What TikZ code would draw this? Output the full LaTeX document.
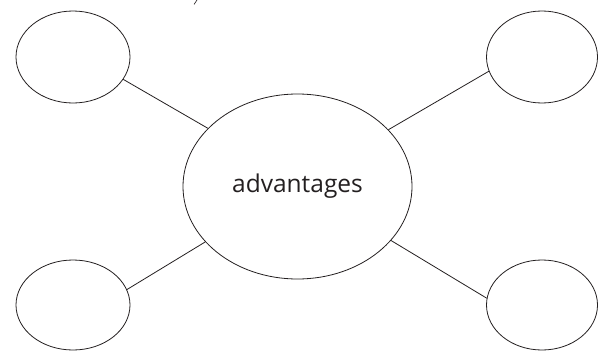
\documentclass[tikz,border=0pt]{standalone}
\usepackage{fontspec}
\setmainfont{Open Sans}
\usetikzlibrary{shapes.geometric}
\definecolor{ink}{HTML}{231F20}
\tikzset{
  bubble/.style={draw=ink, ellipse, line width=0.8pt, inner sep=0pt},
  small/.style={bubble, minimum width=114pt, minimum height=92pt},
  big/.style={bubble, minimum width=229pt, minimum height=185pt, font=\fontsize{24.5}{28}\selectfont, text=ink},
  link/.style={draw=ink, line width=0.8pt}
}
\begin{document}
\begin{tikzpicture}[x=1pt,y=-1pt]
\useasboundingbox (0,0) rectangle (599,351);
\node[big] (c) at (297.5,186.5) {\raisebox{-2.5pt}{advantages}};
\node[small] (tl) at (73,57) {};
\node[small, minimum width=111pt] (tr) at (542,57) {};
\node[small, minimum height=90pt] (bl) at (73,305) {};
\node[small, minimum width=111pt, minimum height=90pt] (br) at (542,305) {};
\draw[link] (tl.-24.8) -- (c.147.9);
\draw[link] (tr.195.5) -- (c.32.4);
\draw[link] (bl.16.8) -- (c.211);
\draw[link] (br.173.8) -- (c.-30.8);
\draw[draw=ink, line width=0.6pt] (197,0) -- (194,4.5);
\end{tikzpicture}
\end{document}
